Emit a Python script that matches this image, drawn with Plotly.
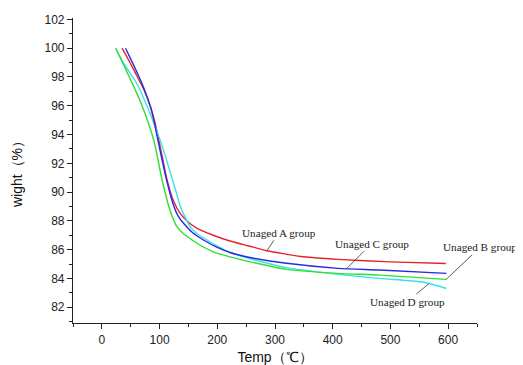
import numpy as np
import plotly.graph_objects as go

# Unaged A group (red)
temp_a = [35, 50, 61, 73, 84, 92, 98.5, 106, 113, 124, 136, 150, 165, 193, 222, 255, 286, 320, 349, 409, 500, 596]
wt_a = [100.0, 98.9, 98.05, 97.1, 95.96, 94.85, 93.65, 92.2, 90.85, 89.4, 88.5, 87.9, 87.48, 87.0, 86.6, 86.25, 85.92, 85.68, 85.5, 85.32, 85.15, 85.04]
# Unaged B group (green)
temp_b = [24, 40, 55, 64, 72, 81, 90, 97, 104, 110, 116, 123, 130, 143, 159, 175, 193, 222, 263, 320, 409, 481, 597]
wt_b = [100.0, 98.65, 97.35, 96.55, 95.75, 94.75, 93.6, 92.3, 90.9, 89.9, 89.0, 88.2, 87.6, 87.05, 86.6, 86.2, 85.85, 85.5, 85.1, 84.63, 84.35, 84.23, 83.93]
# Unaged C group (blue)
temp_c = [41, 53, 64, 74, 84, 90, 95.6, 104, 113, 124, 132, 141.6, 158, 176, 200, 222, 263, 320, 409, 481, 597]
wt_c = [100.0, 99.0, 98.05, 97.1, 95.96, 95.0, 93.9, 92.3, 90.7, 89.1, 88.35, 87.83, 87.15, 86.67, 86.15, 85.8, 85.4, 85.05, 84.70, 84.58, 84.35]
# Unaged D group (cyan)
temp_d = [24, 40, 60, 70, 78, 90, 101, 110, 119, 128, 136, 145, 153, 165, 182, 200, 222, 263, 320, 395, 481, 530, 562, 597]
wt_d = [100.0, 98.8, 97.6, 96.75, 96.0, 94.8, 93.6, 92.5, 91.3, 90.1, 89.0, 88.2, 87.6, 87.1, 86.67, 86.25, 85.8, 85.3, 84.75, 84.35, 84.0, 83.85, 83.7, 83.3]

series = [
    ("Unaged A group", temp_a, wt_a, "#e3262b"),
    ("Unaged D group", temp_d, wt_d, "#33e3e8"),
    ("Unaged B group", temp_b, wt_b, "#33dd33"),
    ("Unaged C group", temp_c, wt_c, "#2a2ae6"),
]

fig = go.Figure()
for name, t, w, c in series:
    fig.add_trace(go.Scatter(x=t, y=w, mode="lines", name=name,
                             line=dict(color=c, width=1.4, shape="spline", smoothing=0.7)))

# label anchors (temperature on the curve) and text offsets in pixels
labels = [
    ("Unaged A group", temp_a, wt_a, 286, 12, -18),
    ("Unaged C group", temp_c, wt_c, 424, 25, -25),
    ("Unaged B group", temp_b, wt_b, 596.5, 34, -32),
    ("Unaged D group", temp_d, wt_d, 567, -22, 18),
]
for text, t, w, at, ax, ay in labels:
    fig.add_annotation(x=at, y=float(np.interp(at, t, w)), text=text,
                       showarrow=True, arrowhead=0, arrowwidth=0.8, arrowcolor="#333",
                       ax=ax, ay=ay, standoff=0, startstandoff=0,
                       font=dict(family="Liberation Serif", size=11.2, color="#222"))

axis_common = dict(showline=True, linecolor="#222", linewidth=1.2, ticks="outside",
                   ticklen=5, tickwidth=1, tickcolor="#222", showgrid=False, zeroline=False,
                   automargin=False,
                   tickfont=dict(family="Liberation Sans", size=12, color="#222"))

fig.update_xaxes(range=[-50, 650], tickvals=[0, 100, 200, 300, 400, 500, 600],
                 minor=dict(ticks="outside", ticklen=3, tickvals=[-50, 50, 150, 250, 350, 450, 550, 650], tickcolor="#222"),
                 title=dict(text="Temp（℃）", font=dict(family="Liberation Sans", size=14, color="#111"), standoff=13),
                 **axis_common)
fig.update_yaxes(range=[80.9, 102.1], tickvals=list(range(82, 103, 2)),
                 minor=dict(ticks="outside", ticklen=3, tickvals=list(range(81, 102, 2)), tickcolor="#222"),
                 title=dict(text="wight（%）", font=dict(family="Liberation Sans", size=14, color="#111"), standoff=18),
                 **axis_common)

# page body has an 8px margin, so the figure is 8px smaller and margins shifted
fig.update_layout(width=515, height=357, margin=dict(l=65, r=46, t=10, b=42),
                  paper_bgcolor="white", plot_bgcolor="white", showlegend=False)

fig.write_html("out.html")
